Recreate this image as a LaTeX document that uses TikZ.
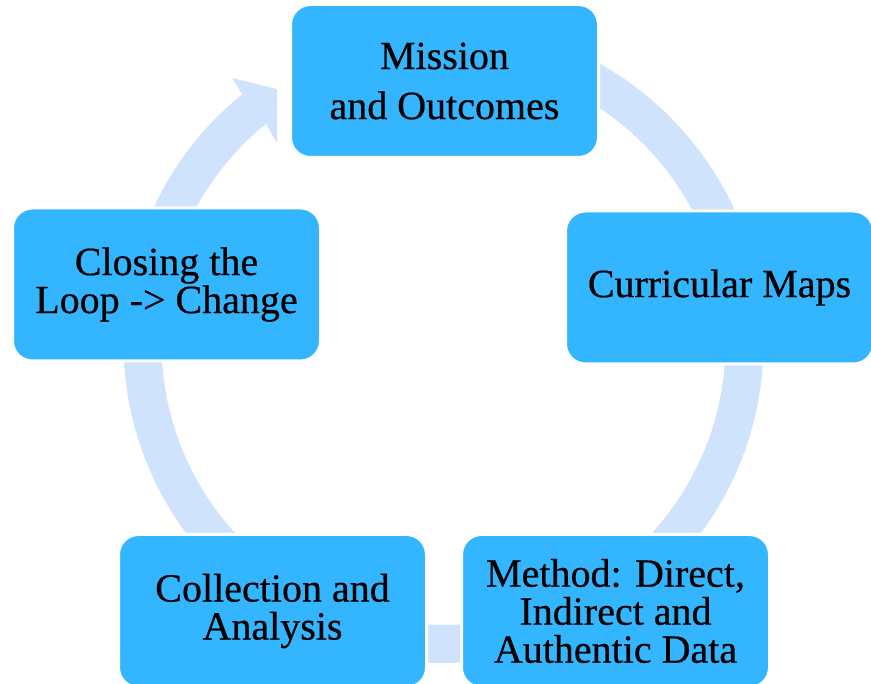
\documentclass[tikz,border=0pt]{standalone}
\usepackage{fontspec}
\setmainfont{Liberation Serif}
\newfontfamily\stagefont[FakeBold=0.5]{Liberation Serif}

\definecolor{stageblue}{HTML}{33B5FF}
\definecolor{ringblue}{HTML}{CFE4FC}

\tikzset{
	stage/.style={rounded corners=20pt, fill=stageblue, draw=white, line width=3pt,
		minimum width=308pt, minimum height=153pt, inner sep=0pt, align=center,
		font=\fontsize{40}{38}\selectfont\stagefont}
}

\begin{document}
\begin{tikzpicture}[x=1pt,y=-1pt]
		\useasboundingbox (0,0) rectangle (871,684);
		\draw[ringblue,line width=38pt] (443.5,343) ++(270:301) arc[start angle=270,end angle=591,radius=301];
		\fill[ringblue] (232,78) -- (277,89) -- (277,143) -- (266,124) -- (242,94) -- cycle;
		\node[stage] (mission) at (444.5,81) {Mission\\[12pt]and Outcomes};
		\node[stage] (maps) at (719.5,287.5) {Curricular Maps};
		\node[stage] (method) at (615.5,611) {Method: Direct,\\Indirect and\\Authentic Data};
		\node[stage] (collect) at (272.5,611) {Collection and\\Analysis};
		\node[stage] (closing) at (166.5,284.5) {Closing the\\Loop -> Change};
	\end{tikzpicture}
\end{document}
